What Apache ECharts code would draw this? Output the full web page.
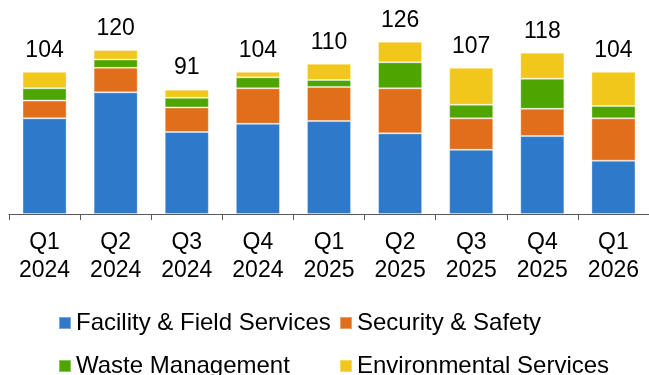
<!DOCTYPE html>
<html>
<head>
<meta charset="utf-8">
<script src="https://cdn.jsdelivr.net/npm/echarts@6/dist/echarts.min.js"></script>
<style>html,body{margin:0;padding:0;background:#fff}#c{width:649px;height:375px}</style>
</head>
<body>
<div id="c"></div>
<script>
const categories = ['Q1\n2024','Q2\n2024','Q3\n2024','Q4\n2024','Q1\n2025','Q2\n2025','Q3\n2025','Q4\n2025','Q1\n2026'];
const facility = [70, 89, 60, 66, 68, 59, 47, 57, 39];
const security = [13, 18, 18, 26, 25, 33, 23, 20, 31];
const waste    = [9, 6, 7, 8, 5, 19, 10, 22, 9];
const environmental = [12, 7, 6, 4, 12, 15, 27, 19, 25];
const totals = [104, 120, 91, 104, 110, 126, 107, 118, 104];

const font = '"Liberation Sans", Arial, sans-serif';
const colors = ['#2E79C9', '#E16E1A', '#4FA500', '#F0C71A'];
const names = ['Facility & Field Services', 'Security & Safety', 'Waste Management', 'Environmental Services'];
const seriesData = [facility, security, waste, environmental];
const legendPos = [[58, 311], [339, 311], [58, 354], [339, 354]];

const chart = echarts.init(document.getElementById('c'));
chart.setOption({
  animation: false,
  color: colors,
  grid: { left: 9, right: 0, top: 9, bottom: 161, containLabel: false },
  legend: names.map((n, i) => ({
    left: legendPos[i][0], top: legendPos[i][1], padding: 0,
    itemWidth: 12, itemHeight: 12, icon: 'rect', data: [n],
    textStyle: { fontFamily: font, fontSize: 24, color: '#000', lineHeight: 24 }
  })),
  xAxis: {
    type: 'category', data: categories, boundaryGap: true,
    axisLine: { lineStyle: { color: '#595959', width: 1 } },
    axisTick: { show: true, length: 6, lineStyle: { color: '#595959' } },
    axisLabel: { fontFamily: font, fontSize: 23, color: '#000', lineHeight: 28, margin: 15, interval: 0 }
  },
  yAxis: { type: 'value', min: 0, max: 150, show: false, splitLine: { show: false } },
  series: seriesData.map((d, i) => ({
    name: names[i], type: 'bar', stack: 'total', data: d, barWidth: '62%',
    itemStyle: { borderColor: 'rgba(255,255,255,0.35)', borderWidth: 1 },
    label: i === 3 ? {
      show: true, position: 'top', distance: 10,
      fontFamily: font, fontSize: 23, lineHeight: 23, color: '#000',
      formatter: p => String(totals[p.dataIndex])
    } : { show: false }
  }))
});
</script>
</body>
</html>
